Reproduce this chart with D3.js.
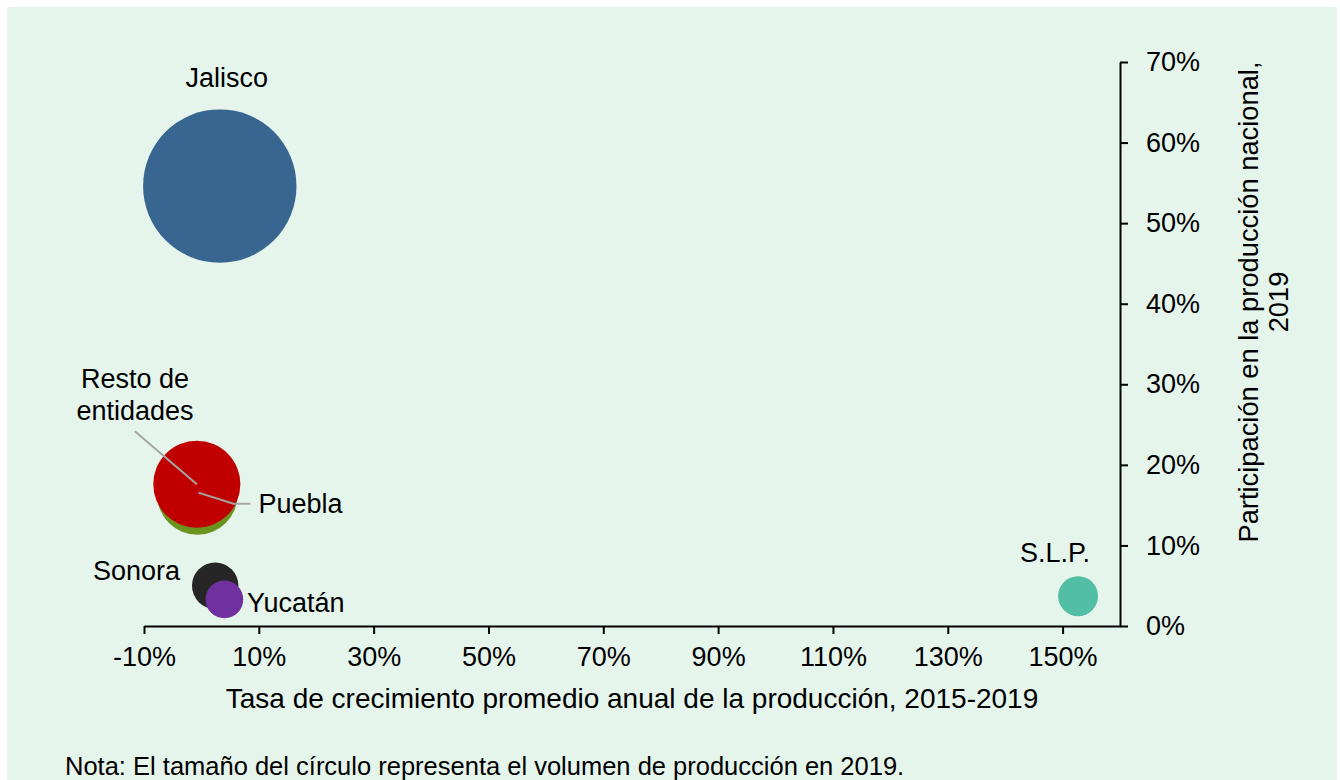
<!DOCTYPE html>
<html>
<head>
<meta charset="utf-8">
<script src="https://cdn.jsdelivr.net/npm/d3@7"></script>
<style>
  body { margin: 0; background: #fff; }
  svg { display: block; font-family: "Liberation Sans", Arial, sans-serif; }
</style>
</head>
<body>
<div id="chart"></div>
<script>
// datos
const entidades = ["Jalisco", "Puebla", "Resto de entidades", "Sonora", "Yucatán", "S.L.P."];
const crecimiento = [3.2, -0.7, -0.8, 2.4, 4.0, 152.7];      // eje x, %
const participacion = [54.6, 16.3, 17.6, 5.0, 3.3, 3.7];     // eje y, %
const volumen = [54.6, 15.0, 17.6, 5.0, 3.3, 3.7];           // tamaño del circulo
const colores = ["#386690", "#6b941f", "#c00000", "#262626", "#7030a0", "#52bea3"];

const xTicks = [-10, 10, 30, 50, 70, 90, 110, 130, 150];
const yTicks = [0, 10, 20, 30, 40, 50, 60, 70];

const width = 1340;
const height = 780;

const svg = d3.select('#chart').append('svg')
  .attr('width', width)
  .attr('height', height);

svg.append('rect')
  .attr('x', 7).attr('y', 7)
  .attr('width', width - 10).attr('height', height)
  .attr('fill', '#e5f5ec');

const x = d3.scaleLinear().domain([-10, 160]).range([144, 1120]);
const y = d3.scaleLinear().domain([0, 70]).range([626, 62]);
const r = d3.scaleSqrt().domain([0, 54.6]).range([0, 76.7]);

// ejes
const xAxis = svg.append('g')
  .attr('transform', `translate(0,${y(0)})`)
  .call(d3.axisBottom(x).tickValues(xTicks).tickSize(8).tickSizeOuter(0)
    .tickFormat(d => d + '%'));
xAxis.select('.domain').attr('stroke', '#000').attr('stroke-width', 2);
xAxis.selectAll('.tick line').attr('stroke', '#000').attr('stroke-width', 2);
xAxis.selectAll('.tick text')
  .attr('y', 21)
  .attr('font-size', 27)
  .attr('fill', '#000')
  .attr('font-family', '"Liberation Sans", Arial, sans-serif');

const yAxis = svg.append('g')
  .attr('transform', `translate(${x(160)},0)`)
  .call(d3.axisRight(y).tickValues(yTicks).tickSize(8).tickSizeOuter(0)
    .tickFormat(d => d + '%'));
yAxis.select('.domain').attr('stroke', '#000').attr('stroke-width', 2);
yAxis.selectAll('.tick line').attr('stroke', '#000').attr('stroke-width', 2);
yAxis.selectAll('.tick text')
  .attr('x', 26)
  .attr('font-size', 27)
  .attr('fill', '#000')
  .attr('font-family', '"Liberation Sans", Arial, sans-serif');

// burbujas
const orden = [0, 1, 2, 3, 4, 5];
svg.append('g').selectAll('circle')
  .data(orden)
  .enter().append('circle')
    .attr('cx', i => x(crecimiento[i]))
    .attr('cy', i => y(participacion[i]))
    .attr('r', i => r(volumen[i]))
    .attr('fill', i => colores[i]);

// lineas guia
const gris = '#a6a6a6';
const pPuebla = [x(crecimiento[1]), y(participacion[1])];
const pResto = [x(crecimiento[2]), y(participacion[2])];
svg.append('path')
  .attr('d', d3.line()([[pResto[0] - 62, pResto[1] - 53], [pResto[0], pResto[1]]]))
  .attr('stroke', gris).attr('stroke-width', 2).attr('fill', 'none');
svg.append('path')
  .attr('d', d3.line()([[pPuebla[0] + 1, pPuebla[1] - 2], [pPuebla[0] + 36, pPuebla[1] + 9], [pPuebla[0] + 53, pPuebla[1] + 9]]))
  .attr('stroke', gris).attr('stroke-width', 2).attr('fill', 'none');

// etiquetas
const lbl = svg.append('g').attr('font-size', 27).attr('fill', '#000');
lbl.append('text').attr('x', x(crecimiento[0]) + 7).attr('y', 87)
  .attr('text-anchor', 'middle').text('Jalisco');
const resto = lbl.append('text').attr('x', 135).attr('y', 388).attr('text-anchor', 'middle');
resto.append('tspan').attr('x', 135).text('Resto de');
resto.append('tspan').attr('x', 135).attr('dy', 32).text('entidades');
lbl.append('text').attr('x', pPuebla[0] + 61).attr('y', 513).text('Puebla');
lbl.append('text').attr('x', 180).attr('y', 580).attr('text-anchor', 'end').text('Sonora');
lbl.append('text').attr('x', 247).attr('y', 612).text('Yucatán');
lbl.append('text').attr('x', x(crecimiento[5]) - 23).attr('y', 562)
  .attr('text-anchor', 'middle').text('S.L.P.');

// titulos de ejes
svg.append('text')
  .attr('x', 632).attr('y', 708)
  .attr('text-anchor', 'middle')
  .attr('font-size', 28)
  .text('Tasa de crecimiento promedio anual de la producción, 2015-2019');

const yt = svg.append('text')
  .attr('transform', 'translate(1258,302) rotate(-90)')
  .attr('text-anchor', 'middle')
  .attr('font-size', 27.3);
yt.append('tspan').attr('x', 0).attr('y', 0).text('Participación en la producción nacional,');
yt.append('tspan').attr('x', 0).attr('y', 30).text('2019');

svg.append('text')
  .attr('x', 65).attr('y', 775)
  .attr('font-size', 25.5)
  .text('Nota: El tamaño del círculo representa el volumen de producción en 2019.');
</script>
</body>
</html>
